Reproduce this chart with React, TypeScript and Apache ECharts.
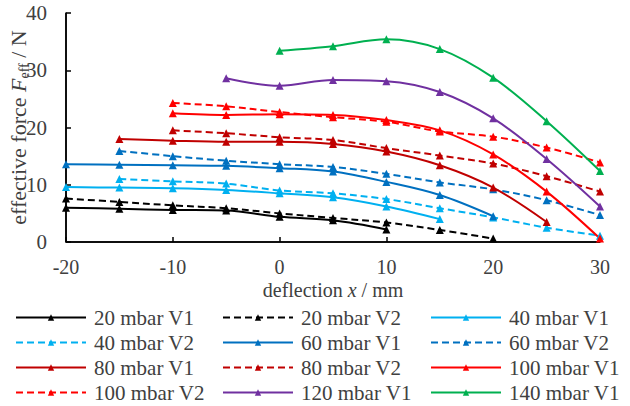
import React, { useEffect, useRef } from "react";
import * as echarts from "echarts";

const xValues = [-20, -15, -10, -5, 0, 5, 10, 15, 20, 25, 30];

const s20V1 = [6.0, 5.8, 5.6, 5.5, 4.4, 3.8, 2.2, null, null, null, null];
const s20V2 = [7.6, 7.0, 6.4, 5.9, 5.0, 4.2, 3.4, 2.1, 0.6, null, null];
const s40V1 = [9.6, 9.5, 9.4, 9.1, 8.5, 7.8, 6.2, 4.0, null, null, null];
const s40V2 = [null, 11.0, 10.6, 10.2, 9.0, 8.5, 7.5, 5.9, 4.3, 2.5, 1.1];
const s60V1 = [13.6, 13.5, 13.4, 13.3, 12.9, 12.3, 10.5, 8.2, 4.5, null, null];
const s60V2 = [null, 15.9, 15.0, 14.2, 13.6, 13.1, 11.9, 10.4, 9.2, 7.3, 4.7];
const s80V1 = [null, 18.0, 17.7, 17.5, 17.5, 17.1, 15.8, 13.4, 9.5, 3.5, null];
const s80V2 = [null, null, 19.5, 19.0, 18.3, 17.8, 16.4, 15.1, 13.7, 11.5, 8.8];
const s100V1 = [null, null, 22.5, 22.2, 22.3, 22.2, 21.3, 19.5, 15.3, 8.8, 0.6];
const s100V2 = [null, null, 24.3, 23.7, 22.7, 21.8, 21.0, 19.3, 18.4, 16.5, 13.9];
const s120V1 = [null, null, null, 28.6, 27.3, 28.3, 28.1, 26.2, 21.6, 14.5, 6.2];
const s140V1 = [null, null, null, null, 33.4, 34.2, 35.4, 33.7, 28.7, 21.1, 12.4];

const seriesNames = [
  "20 mbar V1", "20 mbar V2", "40 mbar V1", "40 mbar V2",
  "60 mbar V1", "60 mbar V2", "80 mbar V1", "80 mbar V2",
  "100 mbar V1", "100 mbar V2", "120 mbar V1", "140 mbar V1",
];
const seriesValues = [s20V1, s20V2, s40V1, s40V2, s60V1, s60V2, s80V1, s80V2, s100V1, s100V2, s120V1, s140V1];
const seriesColors = [
  "#000000", "#000000", "#00B0F0", "#00B0F0",
  "#0070C0", "#0070C0", "#C00000", "#C00000",
  "#FF0000", "#FF0000", "#7030A0", "#00B050",
];
const seriesDashed = [false, true, false, true, false, true, false, true, false, true, false, false];

const legendCol1 = ["20 mbar V1", "40 mbar V2", "80 mbar V1", "100 mbar V2"];
const legendCol2 = ["20 mbar V2", "60 mbar V1", "80 mbar V2", "120 mbar V1"];
const legendCol3 = ["40 mbar V1", "60 mbar V2", "100 mbar V1", "140 mbar V1"];

const xMin = -20;
const yMin = 0;

const FONT = "Liberation Serif, Times New Roman, serif";
const TEXT = "#404040";

export default function App() {
  const ref = useRef<HTMLDivElement>(null);
  useEffect(() => {
    document.body.style.margin = "0";
    if (!ref.current) return;
    const chart = echarts.init(ref.current, undefined, { renderer: "svg" });

    const series: any[] = seriesNames.map((name, i) => ({
      name,
      type: "line",
      smooth: 0.35,
      symbol: "triangle",
      symbolSize: 8,
      color: seriesColors[i],
      lineStyle: { width: 2, color: seriesColors[i], type: seriesDashed[i] ? [7, 4] : "solid" },
      itemStyle: { color: seriesColors[i] },
      data: xValues
        .map((x, k) => [x, seriesValues[i][k]])
        .filter((p) => p[1] !== null && p[1] !== undefined),
      z: 2,
    }));
    series[0].markLine = {
      silent: true,
      symbol: ["none", "none"],
      label: { show: false },
      lineStyle: { color: "#000", width: 1.5, type: "solid" },
      emphasis: { disabled: true },
      data: [{ xAxis: xMin }, { yAxis: yMin }],
      z: 1,
    };

    const legendBase = {
      orient: "vertical",
      top: 307,
      padding: 0,
      itemWidth: 70,
      itemHeight: 8,
      itemGap: 4,
      selectedMode: false,
      textStyle: { fontSize: 21, lineHeight: 21, color: TEXT, fontFamily: FONT, padding: [0, 0, 0, 3] },
    };

    chart.setOption({
      animation: false,
      textStyle: { fontFamily: FONT },
      grid: { left: 66, right: 30, top: 13, bottom: 164, containLabel: false, outerBoundsMode: "none" },
      xAxis: {
        type: "value",
        min: xMin,
        max: 30,
        interval: 10,
        splitLine: { show: false },
        axisLine: { show: true, onZero: false, lineStyle: { color: "#000", width: 1.5 } },
        axisTick: { show: true, inside: true, length: 5, lineStyle: { color: "#000", width: 1.5 } },
        axisLabel: { fontSize: 20, lineHeight: 20, color: TEXT, fontFamily: FONT, margin: 15 },
        name: "deflection {i|x} / mm",
        nameLocation: "middle",
        nameMoveOverlap: false,
        nameGap: 38,
        nameTextStyle: {
          fontSize: 20,
          lineHeight: 20,
          color: TEXT,
          fontFamily: FONT,
          rich: { i: { fontSize: 20, lineHeight: 20, fontStyle: "italic", color: TEXT, fontFamily: FONT } },
        },
      },
      yAxis: {
        type: "value",
        min: yMin,
        max: 40,
        interval: 10,
        splitLine: { show: false },
        axisLine: { show: true, onZero: false, lineStyle: { color: "#000", width: 1.5 } },
        axisTick: { show: true, inside: true, length: 5, lineStyle: { color: "#000", width: 1.5 } },
        axisLabel: { fontSize: 21, color: TEXT, fontFamily: FONT, margin: 19 },
        name: "effective force {i|F}{sub|eff} / N",
        nameLocation: "middle",
        nameRotate: 90,
        nameMoveOverlap: false,
        nameGap: 35,
        nameTextStyle: {
          fontSize: 22,
          lineHeight: 26,
          color: TEXT,
          fontFamily: FONT,
          rich: {
            i: { fontSize: 22, lineHeight: 26, fontStyle: "italic", color: TEXT, fontFamily: FONT },
            sub: { fontSize: 14, lineHeight: 26, verticalAlign: "bottom", color: TEXT, fontFamily: FONT },
          },
        },
      },
      legend: [
        { ...legendBase, left: 15, data: legendCol1 },
        { ...legendBase, left: 222, data: legendCol2 },
        { ...legendBase, left: 430, data: legendCol3 },
      ],
      series,
    });
    return () => chart.dispose();
  }, []);
  return <div ref={ref} style={{ width: 630, height: 406, position: "fixed", left: 0, top: 0, background: "#fff" }} />;
}
